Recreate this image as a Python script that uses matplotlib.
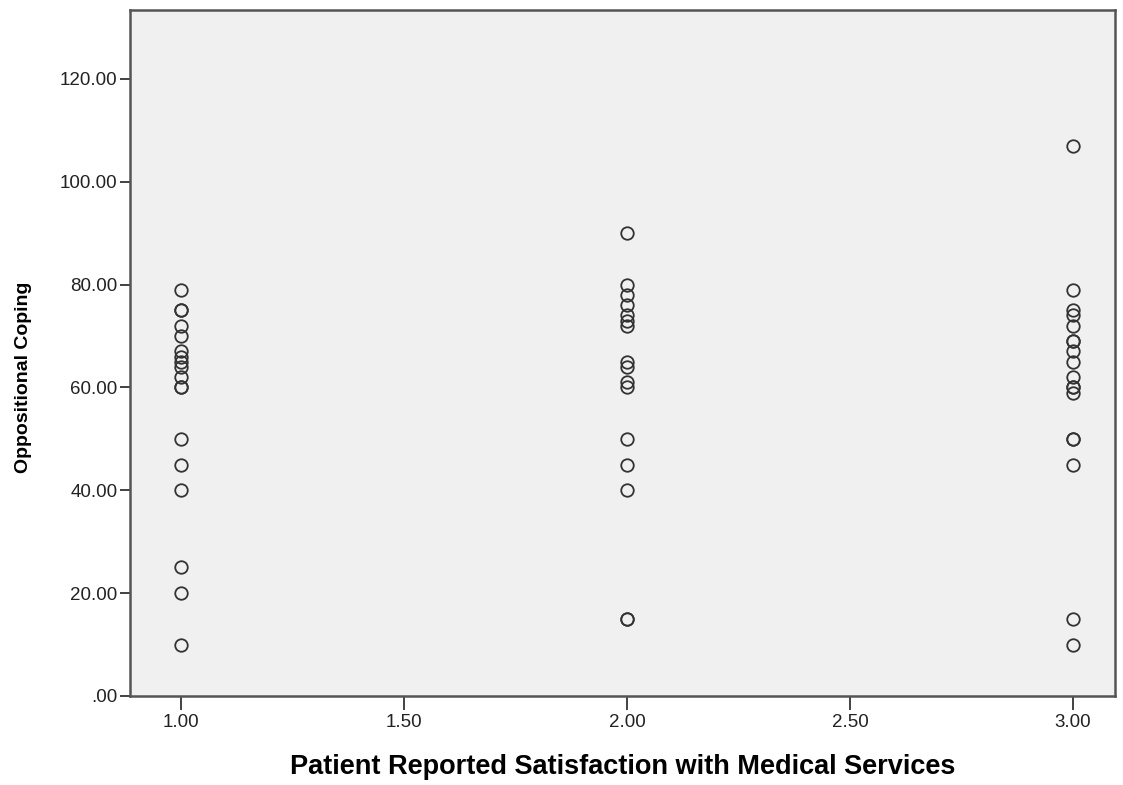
import matplotlib
matplotlib.use("Agg")
import matplotlib.pyplot as plt
from matplotlib.ticker import FuncFormatter

# Data
satisfaction_1 = [79, 75, 75, 72, 70, 67, 66, 65, 64, 62, 60, 60, 50, 45, 40, 25, 20, 10]
satisfaction_2 = [90, 80, 78, 76, 74, 73, 72, 65, 64, 61, 60, 50, 45, 40, 15, 15]
satisfaction_3 = [107, 79, 75, 74, 72, 69, 69, 67, 65, 62, 60, 60, 59, 50, 50, 45, 15, 10]
groups = [1.0, 2.0, 3.0]
x_ticks = [1.0, 1.5, 2.0, 2.5, 3.0]
y_ticks = [0, 20, 40, 60, 80, 100, 120]

plt.rcParams['font.family'] = ['Liberation Sans', 'DejaVu Sans']

fig = plt.figure(figsize=(11.23, 7.85), dpi=100)
ax = fig.add_axes([0.1158, 0.1134, 0.8771, 0.8739])
ax.set_facecolor('#f0f0f0')

for gx, vals in zip(groups, [satisfaction_1, satisfaction_2, satisfaction_3]):
    ax.plot([gx] * len(vals), vals, linestyle='none', marker='o',
            markersize=9, markerfacecolor='none', markeredgecolor='#333333',
            markeredgewidth=1.3)

ax.set_xlim(0.886, 3.094)
ax.set_ylim(0, 133.4)
ax.set_xticks(x_ticks)
ax.set_yticks(y_ticks)

def fmt(v, pos):
    s = f"{v:.2f}"
    if s.startswith("0."):
        s = s[1:]
    return s

ax.xaxis.set_major_formatter(FuncFormatter(fmt))
ax.yaxis.set_major_formatter(FuncFormatter(fmt))

for sp in ax.spines.values():
    sp.set_color('#555555')
    sp.set_linewidth(1.8)

ax.tick_params(axis='both', direction='out', colors='#222222', labelsize=13.5,
               length=7, width=1.2)
ax.tick_params(axis='x', length=10, pad=3)
ax.tick_params(axis='y', pad=2)

ax.set_xlabel('Patient Reported Satisfaction with Medical Services',
              fontsize=19.5, fontweight='bold')
ax.xaxis.set_label_coords(0.5, -0.085)
ax.set_ylabel('Oppositional Coping', fontsize=14, fontweight='bold')
ax.yaxis.set_label_coords(-0.1, 0.465)

fig.savefig('out.png', dpi=100, facecolor='white')
